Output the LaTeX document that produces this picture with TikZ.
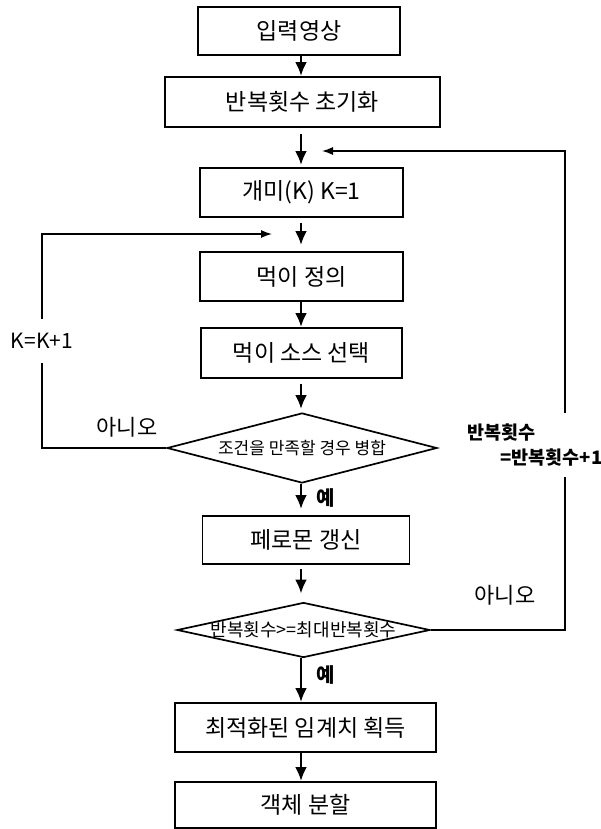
\documentclass[tikz,border=0pt]{standalone}
\usepackage{fontspec}
\setmainfont{Noto Sans CJK KR}
\usetikzlibrary{shapes.geometric,arrows.meta}
\begin{document}
\begin{tikzpicture}[x=1pt,y=-1pt,
  box/.style={draw,line width=1.7pt,rectangle,inner sep=0pt,font=\fontsize{23}{26}\selectfont},
  dia/.style={draw,line width=1.7pt,diamond,inner sep=0pt,aspect=4},
  arr/.style={line width=2.8pt,-{Latex[length=14pt,width=12pt]}},
  looparr/.style={line width=1.4pt,-{Latex[length=11pt,width=8pt]}},
  lbl/.style={font=\fontsize{22}{25}\selectfont},
  blbl/.style={font=\fontsize{20}{25}\selectfont\bfseries}]
\useasboundingbox (0,0) rectangle (601,829);
\coordinate (ax) at (301,0);
\node[box,minimum width=202pt,minimum height=48pt] (b1) at (299,31) {입력영상};
\node[box,minimum width=275pt,minimum height=50pt] (b2) at (302.5,102) {반복횟수 초기화};
\node[box,minimum width=203pt,minimum height=49pt] (b3) at (301.5,192.5) {개미(K) K=1};
\node[box,minimum width=203pt,minimum height=49pt] (b4) at (301.5,276.5) {먹이 정의};
\node[box,minimum width=201pt,minimum height=50pt] (b5) at (301.5,353) {먹이 소스 선택};
\node[dia,minimum width=270pt,minimum height=70pt,font=\fontsize{17}{20}\selectfont] (d1) at (302,448) {\makebox[0pt]{조건을 만족할 경우 병합}};
\node[box,minimum width=207pt,minimum height=48pt] (b6) at (306,540) {페로몬 갱신};
\node[dia,minimum width=253pt,minimum height=55pt,font=\fontsize{18}{21}\selectfont] (d2) at (303.5,630) {\makebox[0pt]{반복횟수>=최대반복횟수}};
\node[box,minimum width=261pt,minimum height=49pt] (b7) at (305.5,727.5) {최적화된 임계치 획득};
\node[box,minimum width=261pt,minimum height=46pt] (b8) at (305.5,805) {객체 분할};

\draw[arr] (b1.south -| ax) -- (b2.north -| ax);
\draw[arr,shorten <=6pt,shorten >=2pt] (b2.south -| ax) -- (b3.north -| ax);
\draw[arr,shorten <=5pt,shorten >=6pt] (b3.south -| ax) -- (b4.north -| ax);
\draw[arr] (b4.south -| ax) -- (b5.north -| ax);
\draw[arr,shorten <=5pt,shorten >=3pt] (b5.south -| ax) -- (d1.north -| ax);
\draw[arr,shorten >=6pt] (d1.south -| ax) -- (b6.north -| ax);
\draw[arr,shorten <=4pt,shorten >=8pt] (b6.south -| ax) -- (d2.north -| ax);
\draw[arr] (d2.south -| ax) -- (b7.north -| ax);
\draw[arr] (b7.south -| ax) -- (b8.north -| ax);

\coordinate (lt) at (272,234);
\coordinate (rt) at (322,151);
\draw[looparr] (d1.west) -- (42,448) -- node[fill=white,font=\fontsize{21}{24}\selectfont,inner xsep=1pt,inner ysep=14pt] (kk) {K=K+1} (42,234) -- (lt);
\draw[looparr] (d2.east) -- (565,630) -- (565,151) -- (rt);
\node[fill=white,align=left,font=\fontsize{18.5}{25}\selectfont\bfseries,inner xsep=1pt,inner ysep=11pt] (rl) at (535,445) {반복횟수\\\hspace*{33pt}=반복횟수+1};

\node[lbl] (no1) at (127,427) {아니오};
\node[lbl] (no2) at (505,595) {아니오};
\node[blbl] (y1) at (326,498) {예};
\node[blbl] (y2) at (326,675) {예};
\end{tikzpicture}
\end{document}
